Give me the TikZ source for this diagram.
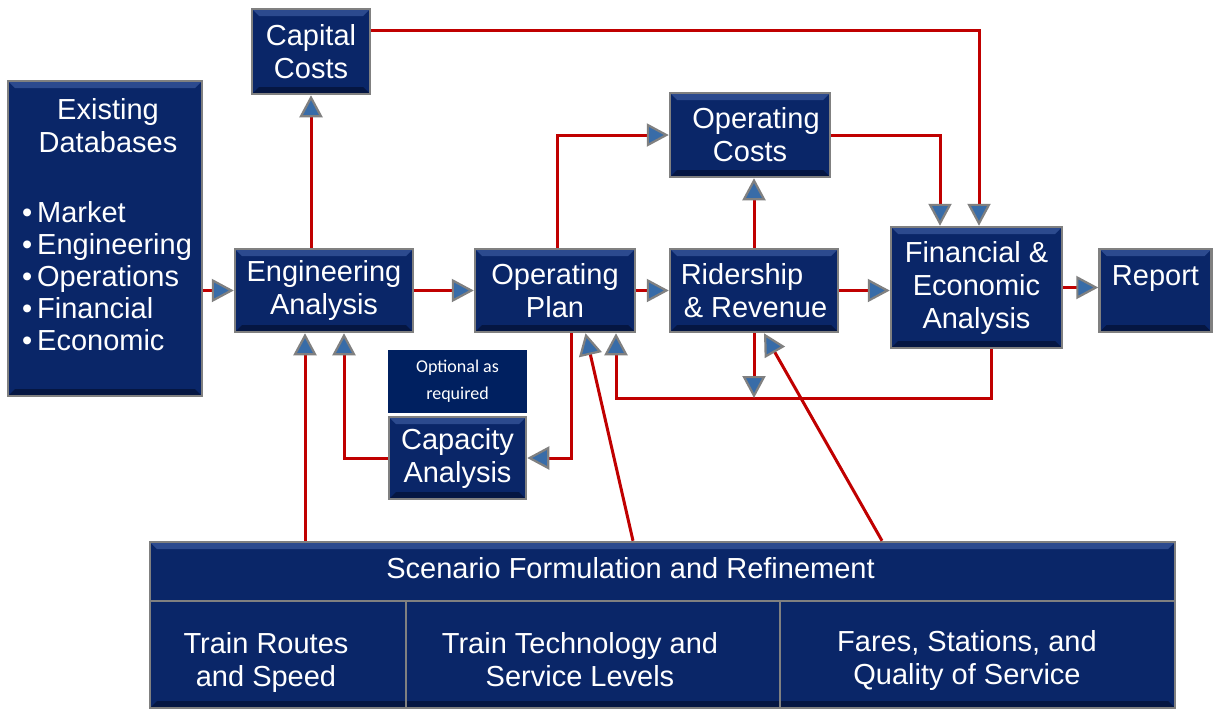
\documentclass[tikz,border=0pt]{standalone}
\usepackage{fontspec}
\setmainfont{Liberation Sans}
\newfontfamily\notefont{Carlito}
\usepackage{tikz}
\usetikzlibrary{arrows.meta, calc}

\definecolor{boxblue}{RGB}{10,38,104}
\definecolor{boxlight}{RGB}{44,74,142}
\definecolor{boxdark}{RGB}{5,22,66}
\definecolor{edgegrey}{RGB}{128,128,128}
\definecolor{linkred}{RGB}{192,0,0}
\definecolor{tipblue}{RGB}{56,108,168}
\definecolor{notebg}{RGB}{0,32,96}

\newcommand{\boxfont}{\fontsize{29}{33}\selectfont}

\tikzset{
    blk/.style={draw=edgegrey, line width=2.5pt, fill=boxblue, text=white, font=\boxfont,
        align=center, inner sep=0pt,
        path picture={
            \fill[boxlight] (path picture bounding box.north west) -- (path picture bounding box.north east)
                -- ([xshift=-7pt,yshift=-7pt]path picture bounding box.north east)
                -- ([xshift=7pt,yshift=-7pt]path picture bounding box.north west) -- cycle;
            \fill[boxdark] (path picture bounding box.south west) -- (path picture bounding box.south east)
                -- ([xshift=-7pt,yshift=7pt]path picture bounding box.south east)
                -- ([xshift=7pt,yshift=7pt]path picture bounding box.south west) -- cycle;
        }},
    txt/.style={text=white, font=\boxfont, align=center, inner sep=0pt},
    divider/.style={draw=edgegrey, line width=1.5pt},
    link/.style={draw=linkred, line width=3pt,
        -{Triangle[width=23pt, length=22pt, fill=tipblue, color=edgegrey, line width=2.2pt]}},
}

\begin{document}
\begin{tikzpicture}[x=1pt, y=-1pt]
        \useasboundingbox (0,0) rectangle (1215,710);

        \node (cap)  [blk, minimum width=118pt, minimum height=85pt] at (311,51.5) {Capital\\Costs};
        \node (db)   [blk, minimum width=194pt, minimum height=315pt] at (105,238.5) {};
        \node (dbhead) [txt] at (108,126) {Existing\\Databases};
        \node (dblist) [txt, align=left, anchor=west, font=\fontsize{29}{32}\selectfont] at (22,276)
            {\textbullet\,Market\\\textbullet\,Engineering\\\textbullet\,Operations\\\textbullet\,Financial\\\textbullet\,Economic};
        \node (eng)  [blk, minimum width=178pt, minimum height=83pt] at (324,290.5) {Engineering\\Analysis};
        \node (plan) [blk, minimum width=160pt, minimum height=83pt] at (555,290.5) {Operating\\Plan};
        \node (opc)  [blk, minimum width=160pt, minimum height=84pt] at (750,135) {\hspace*{12pt}Operating\\Costs};
        \node (rid)  [blk, minimum width=168pt, minimum height=83pt, align=left] at (754,290.5)
            {Ridership\\\hspace*{3pt}\& Revenue};
        \node (fin)  [blk, minimum width=171pt, minimum height=121pt] at (976.5,287.5) {Financial \&\\Economic\\Analysis};
        \node (rep)  [blk, minimum width=112pt, minimum height=83pt, text depth=29pt] at (1155.5,290.5) {Report};
        \node (opt)  [fill=notebg, text=white, font=\notefont\fontsize{18}{27}\selectfont, align=center,
            minimum width=139pt, minimum height=63pt, inner sep=0pt] at (457.5,381.5) {Optional as\\required};
        \node (capa) [blk, minimum width=137pt, minimum height=82pt] at (457.5,458) {Capacity\\Analysis};
        \node (scen) [blk, minimum width=1025pt, minimum height=166pt] at (662.5,625) {};

        \draw[divider] ([yshift=-60pt]scen.north west) -- ([yshift=-60pt]scen.north east);
        \draw[divider] ([xshift=257pt,yshift=-60pt]scen.north west) -- ([xshift=257pt]scen.south west);
        \draw[divider] ([xshift=631pt,yshift=-60pt]scen.north west) -- ([xshift=631pt]scen.south west);

        \node (scenhead) [txt] at (630.5,568) {Scenario Formulation and Refinement};
        \node (routes) [txt] at (266,662) {Train Routes\\and Speed};
        \node (tech)   [txt] at (580,660) {Train Technology and\\Service Levels};
        \node (fares)  [txt] at (967,660) {Fares, Stations, and\\Quality of Service};

        \coordinate (fb) at (754,398);

        \draw[link] (db.east |- eng.west) -- (eng.west);
        \draw[link] (cap.south |- eng.north) -- (cap.south);
        \draw[link] (eng.east) -- (plan.west);
        \draw[link] ([xshift=2pt]plan.north) |- (opc.west);
        \draw[link] (plan.east) -- (rid.west);
        \draw[link] (rid.north) -- (rid.north |- opc.south);
        \draw[link] (rid.east) -- (rid.east -| fin.west);
        \draw[link] (opc.east) -| ([xshift=-36.5pt]fin.north);
        \draw[link] ([yshift=21pt]cap.east) -| ([xshift=2.5pt]fin.north);
        \draw[link] (fin.east) -- (fin.east -| rep.west);
        \draw[link] ([xshift=14.5pt]fin.south) |- (fb) -| ([xshift=61pt]plan.south);
        \draw[link] (rid.south) -- (fb);
        \draw[link] ([xshift=16pt]plan.south) |- (capa.east);
        \draw[link] (capa.west) -| ([xshift=20pt]eng.south);
        \draw[link] ([xshift=-19pt]eng.south |- scen.north) -- ([xshift=-19pt]eng.south);
        \draw[link] ([xshift=-29.5pt]scen.north) -- ([xshift=30.5pt]plan.south);
        \draw[link] ([xshift=219.5pt]scen.north) -- ([xshift=10pt]rid.south);
\end{tikzpicture}
\end{document}
